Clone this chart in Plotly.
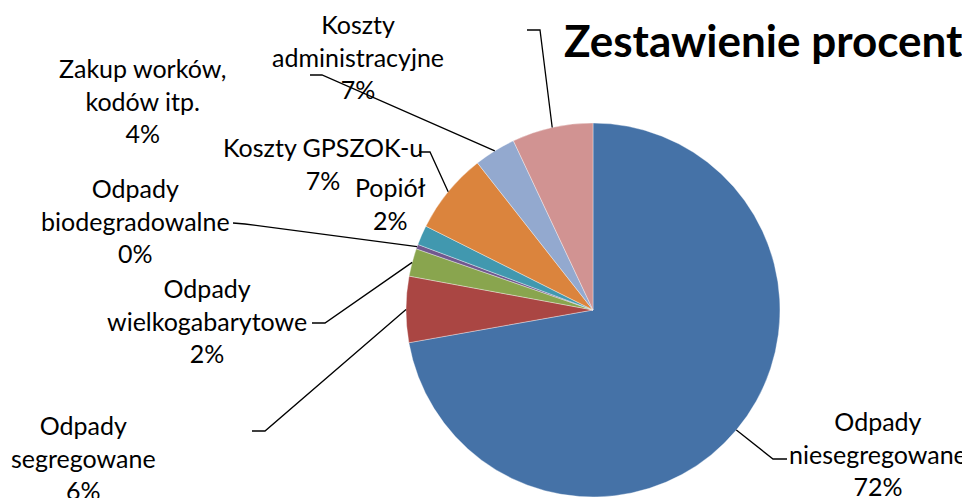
import math
import plotly.graph_objects as go

# ---------------- data ----------------
categories = [
    "Odpady niesegregowane",
    "Odpady segregowane",
    "Odpady wielkogabarytowe",
    "Odpady biodegradowalne",
    "Popiół",
    "Koszty GPSZOK-u",
    "Zakup worków, kodów itp.",
    "Koszty administracyjne",
]
label_lines = [
    "Odpady<br>niesegregowane",
    "Odpady<br>segregowane",
    "Odpady<br>wielkogabarytowe",
    "Odpady<br>biodegradowalne",
    "Popiół",
    "Koszty GPSZOK-u",
    "Zakup worków,<br>kodów itp.",
    "Koszty<br>administracyjne",
]
values = [72.2, 5.7, 2.4, 0.4, 1.7, 7.0, 3.6, 7.0]
colors = ["#4572A7", "#AA4643", "#89A54E", "#71588F", "#4198AF", "#DB843D", "#93A9CF", "#D19392"]
title_text = "Zestawienie procentowe kosztów"

# ---------------- layout (pixels, in page coordinates) ----------------
OFF = 8                      # default page body margin
W, H = 970 - OFF, 498 - OFF  # figure size
CX, CY, R = 593, 310, 187
FONT = "Lato"
LABEL_SIZE = 25

# label block centres
label_pos = [(878, 453), (83, 457), (207, 320), (135, 220), (390, 203), (323, 163), (142, 100), (358, 57)]
# leader elbows: (outer end, elbow corner)
elbows = [((787, 459), (773, 459)), ((252, 431), (265, 431)), ((312, 323), (325, 323)),
          ((233, 223), (245, 224)), None, ((419, 152), (430, 152)), ((310, 75), (322, 75)),
          ((527, 30), (540, 30))]


def px(x, y):
    return (x - OFF) / W, 1 - (y - OFF) / H


d0 = px(CX - R, CY + R)
d1 = px(CX + R, CY - R)

fig = go.Figure(go.Pie(
    labels=categories,
    values=values,
    sort=False,
    direction="clockwise",
    rotation=0,
    marker=dict(colors=colors, line=dict(color="rgba(255,255,255,0.6)", width=0.6)),
    textinfo="none",
    hoverinfo="label+percent",
    domain=dict(x=[d0[0], d1[0]], y=[d0[1], d1[1]]),
    showlegend=False,
))

total = sum(values)
cum = 0.0
shapes = []
annotations = []
for i, v in enumerate(values):
    mid = (cum + v / 2) / total
    cum += v
    th = 2 * math.pi * mid
    ex, ey = CX + R * math.sin(th), CY - R * math.cos(th)
    pct = f"{round(v / total * 100)}%"
    lx, ly = label_pos[i]
    ax, ay = px(lx, ly)
    annotations.append(dict(
        text=f"{label_lines[i]}<br>{pct}", x=ax, y=ay, xref="paper", yref="paper",
        xanchor="center", yanchor="middle", showarrow=False, align="center",
        font=dict(family=FONT, size=LABEL_SIZE, color="#000000"),
    ))
    if elbows[i] is not None:
        (x0, y0), (x1, y1) = elbows[i]
        p0, p1, p2 = px(x0, y0), px(x1, y1), px(ex, ey)
        shapes.append(dict(
            type="path", xref="paper", yref="paper",
            path=f"M {p0[0]} {p0[1]} L {p1[0]} {p1[1]} L {p2[0]} {p2[1]}",
            line=dict(color="#000000", width=1.3),
        ))

tx, ty = px(562, 40)
annotations.append(dict(
    text=title_text, x=tx, y=ty, xref="paper", yref="paper",
    xanchor="left", yanchor="middle", showarrow=False,
    font=dict(family=FONT, size=44, color="#000000", weight="bold"),
))

fig.update_layout(
    width=W, height=H,
    margin=dict(l=0, r=0, t=0, b=0),
    paper_bgcolor="white", plot_bgcolor="white",
    shapes=shapes, annotations=annotations,
)

fig.write_html("out.html")
